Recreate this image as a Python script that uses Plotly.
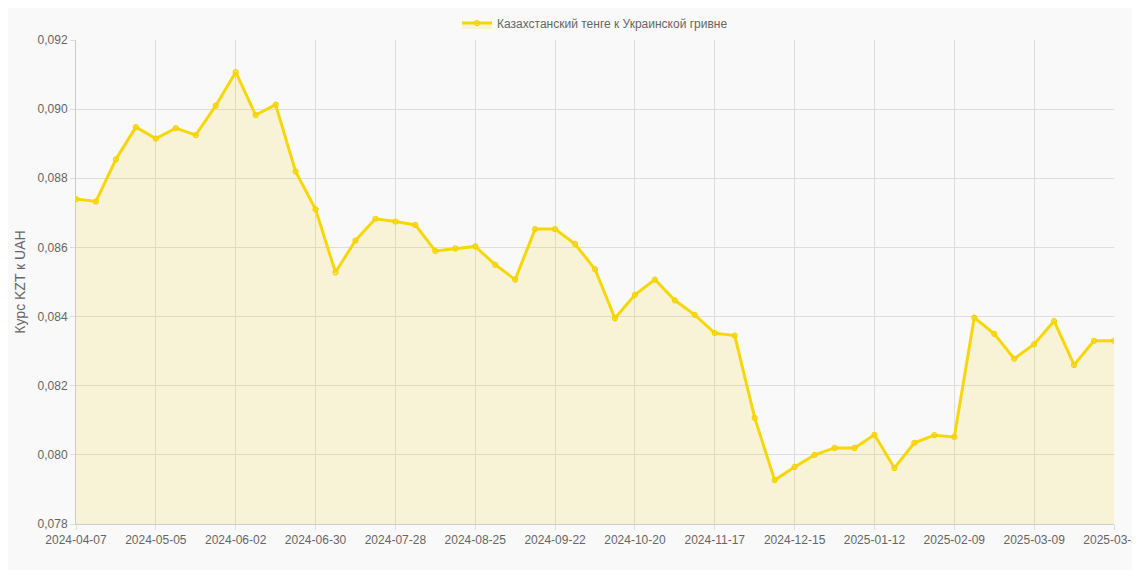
import datetime

import plotly.graph_objects as go

# weekly observations, the last one falls on 2025-03-31
start = datetime.date(2024, 4, 7)
dates = [(start + datetime.timedelta(weeks=i)).isoformat() for i in range(49)]
dates += ["2025-03-15", "2025-03-22", "2025-03-29", "2025-03-31"]

rates = [
    0.0874, 0.08733, 0.08855, 0.08948, 0.08915, 0.08945, 0.08925, 0.0901,
    0.09107, 0.08983, 0.09013, 0.0882, 0.0871, 0.08528, 0.0862, 0.08683,
    0.08675, 0.08665, 0.0859, 0.08597, 0.08603, 0.0855, 0.08507, 0.08653,
    0.08653, 0.0861, 0.08537, 0.08395, 0.08463, 0.08507, 0.08447, 0.08405,
    0.08352, 0.08345, 0.08107, 0.07927, 0.07965, 0.08, 0.0802, 0.0802,
    0.08058, 0.07962, 0.08035, 0.08057, 0.08052, 0.08397, 0.0835, 0.08278,
    0.0832, 0.08387, 0.0826, 0.0833, 0.0833,
]

tick_labels = dates[::4]

fig = go.Figure()
fig.add_trace(
    go.Scatter(
        name="Казахстанский тенге к Украинской гривне",
        x=dates,
        y=rates,
        mode="lines+markers",
        line=dict(color="#f7d708", width=3),
        marker=dict(size=5, color="rgba(247,215,8,0.25)", line=dict(color="#f2d20a", width=1.2)),
        fill="tozeroy",
        fillcolor="rgba(247,215,8,0.14)",
    )
)

fig.update_layout(
    width=1140,
    height=570,
    autosize=False,
    paper_bgcolor="#f9f9f9",
    plot_bgcolor="#f9f9f9",
    margin=dict(l=68, r=34, t=32, b=54, autoexpand=False),
    separators=",.",
    font=dict(family="Liberation Sans, Arial", size=12, color="#666"),
    showlegend=True,
    legend=dict(
        orientation="h", x=0.5, xanchor="center", y=1.005, yanchor="bottom",
        font=dict(size=12), bgcolor="rgba(0,0,0,0)",
    ),
)
fig.update_xaxes(
    type="category",
    tickvals=tick_labels,
    ticktext=tick_labels,
    tickangle=0,
    automargin=False,
    showgrid=True,
    gridcolor="#ddd",
    showline=True,
    linecolor="#ccc",
    ticks="outside",
    tickcolor="#ddd",
    range=[0, len(dates) - 1],
)
fig.update_yaxes(
    title=dict(text="Курс KZT к UAH", font=dict(size=14), standoff=8),
    range=[0.078, 0.092],
    dtick=0.002,
    tickformat=".3f",
    automargin=False,
    showgrid=True,
    gridcolor="#ddd",
    showline=True,
    linecolor="#ccc",
    zeroline=False,
    ticks="outside",
    tickcolor="#ddd",
)

fig.write_html("out.html")
